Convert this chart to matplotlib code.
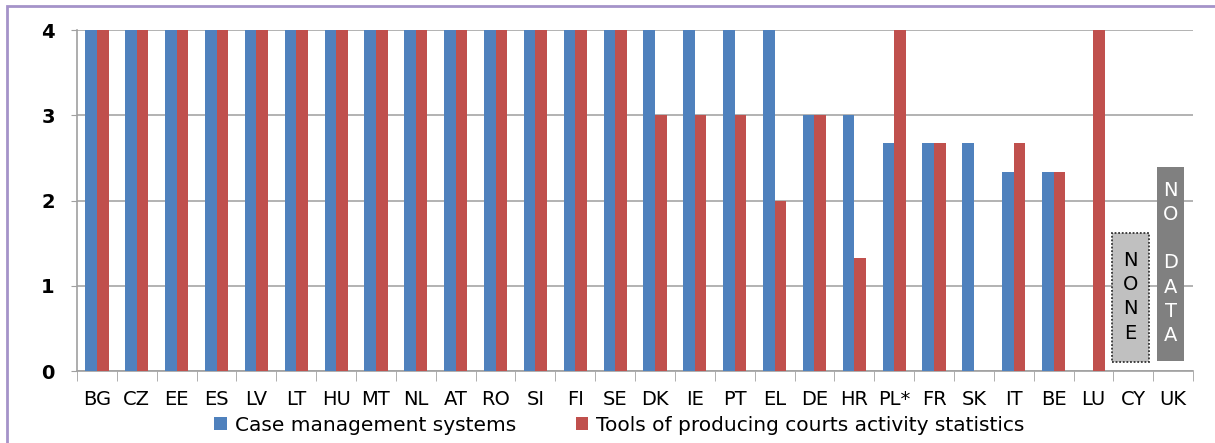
import numpy as np
import matplotlib.pyplot as plt
from matplotlib.patches import Rectangle

countries = ["BG", "CZ", "EE", "ES", "LV", "LT", "HU", "MT", "NL", "AT", "RO",
             "SI", "FI", "SE", "DK", "IE", "PT", "EL", "DE", "HR", "PL*", "FR",
             "SK", "IT", "BE", "LU", "CY", "UK"]
case_mgmt = [4, 4, 4, 4, 4, 4, 4, 4, 4, 4, 4, 4, 4, 4, 4, 4, 4, 4, 3, 3,
             2.67, 2.67, 2.67, 2.33, 2.33, 0, 0, 0]
stats_tools = [4, 4, 4, 4, 4, 4, 4, 4, 4, 4, 4, 4, 4, 4, 3, 3, 3, 2, 3, 1.33,
               4, 2.67, 0, 2.67, 2.33, 4, 0, 0]

blue = "#4f81bd"
red = "#c0504d"

fig = plt.figure(figsize=(12.15, 4.43), dpi=100)
ax = fig.add_axes([0.0634, 0.1625, 0.9186, 0.7695])

x = np.arange(len(countries))
w = 0.29
ax.bar(x - w / 2, case_mgmt, w, color=blue, zorder=3,
       label="Case management systems")
ax.bar(x + w / 2, stats_tools, w, color=red, zorder=3,
       label="Tools of producing courts activity statistics")

# placeholder boxes for CY and UK
cy = countries.index("CY")
uk = countries.index("UK")
ax.add_patch(Rectangle((cy - 0.53, 0.105), 0.93, 1.51, facecolor="#c0c0c0",
                       edgecolor="#333333", linestyle=(0, (1, 1)), lw=1.3, zorder=4))
ax.text(cy - 0.065, 0.87, "N\nO\nN\nE", ha="center", va="center", fontsize=14,
        linespacing=1.35, color="black", zorder=5)
ax.add_patch(Rectangle((uk - 0.40, 0.12), 0.68, 2.27, facecolor="#808080",
                       edgecolor="none", zorder=4))
ax.text(uk - 0.06, 1.27, "N\nO\n\nD\nA\nT\nA", ha="center", va="center",
        fontsize=14, linespacing=1.35, color="white", zorder=5)

ax.set_xlim(-0.5, len(countries) - 0.5)
ax.set_ylim(0, 4)
ax.set_yticks([0, 1, 2, 3, 4])
ax.set_xticks(x)
ax.set_xticklabels(countries, fontsize=14)
ax.set_xticks(np.arange(len(countries) + 1) - 0.5, minor=True)
ax.tick_params(axis="x", which="major", length=0, pad=14)
ax.tick_params(axis="x", which="minor", length=7, color="#a0a0a0")
ax.tick_params(axis="y", length=4, color="#a0a0a0", labelsize=14, pad=12)
for lbl in ax.get_yticklabels():
    lbl.set_fontweight("bold")
ax.yaxis.grid(True, color="#a6a6a6", lw=1.2, zorder=0)
for s in ["top", "right"]:
    ax.spines[s].set_visible(False)
for s in ["left", "bottom"]:
    ax.spines[s].set_color("#a0a0a0")
    ax.spines[s].set_linewidth(1.2)

fig.legend(loc="center", bbox_to_anchor=(0.51, 0.04), ncol=2, frameon=False,
           fontsize=14.5, handlelength=0.6, handleheight=0.6, handletextpad=0.4,
           columnspacing=3.0)

# outer frame
fig.patches.append(Rectangle((7 / 1215, -0.05), 1.1, 1 - 6 / 443 + 0.05,
                             transform=fig.transFigure, fill=False,
                             edgecolor="#a593c9", lw=2))

fig.savefig("out.png", dpi=100)
